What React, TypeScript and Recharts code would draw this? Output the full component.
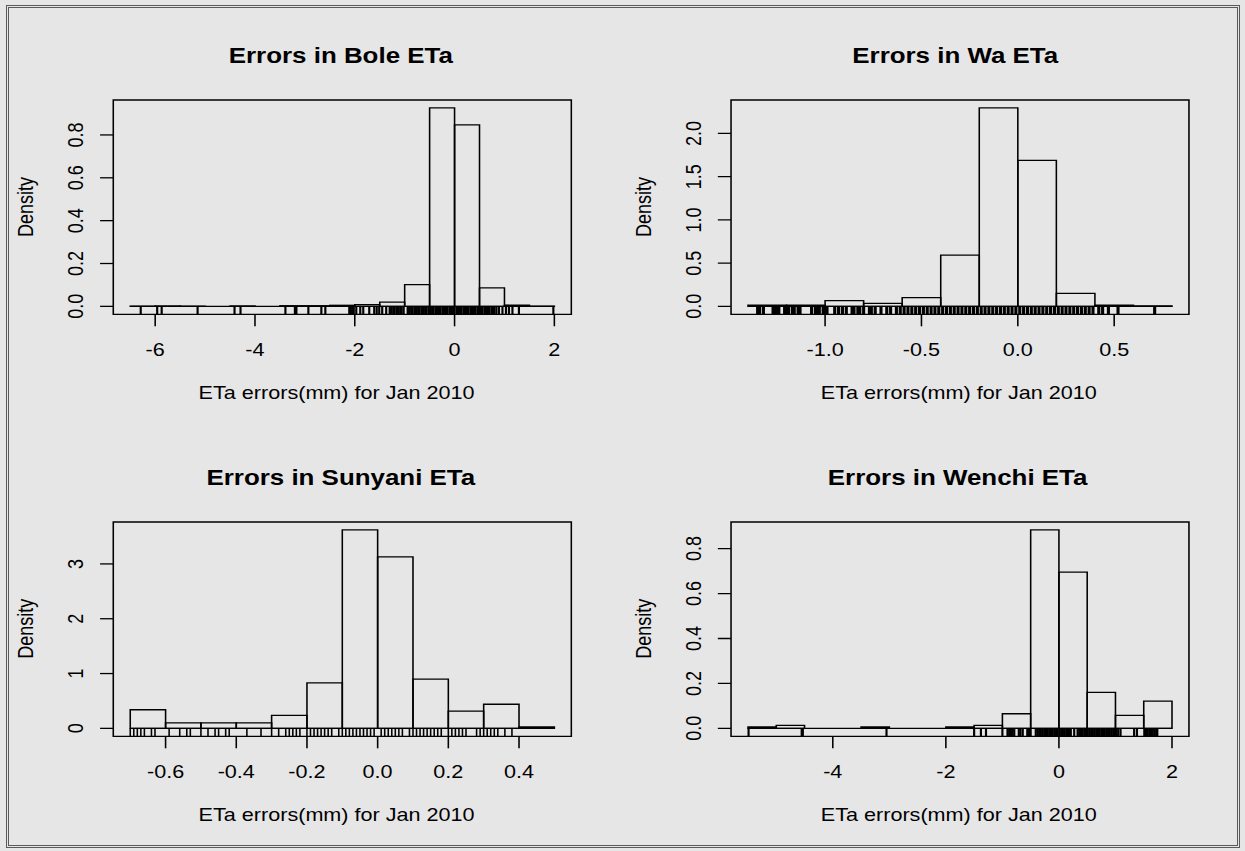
import React from "react";
import { ComposedChart, XAxis, YAxis, Scatter, ReferenceArea, ReferenceLine } from "recharts";

const FONT = '"Liberation Sans", Arial, Helvetica, sans-serif';

// Bole
const boleBreaks = [-6.5, -6, -5.5, -5, -4.5, -4, -3.5, -3, -2.5, -2, -1.5, -1, -0.5, 0, 0.5, 1, 1.5, 2];
const boleDensity = [0.001, 0.002, 0.001, 0, 0.002, 0, 0.003, 0.003, 0.005, 0.008, 0.02, 0.101, 0.926, 0.847, 0.086, 0.006, 0.001];
const boleRug = [-6.29, -5.96, -5.87, -5.15, -4.41, -4.29, -3.39, -3.2, -3.17, -2.93, -2.67, -2.59, -2.11, -2.08, -2.05, -2.02,
  -1.97, -1.89, -1.83, -1.71, -1.61, -1.56, -1.51, -1.45, -1.37, -1.3, -1.27, -1.23, -1.2, -1.16, -1.13, -1.09, -1.06, -1.02,
  -0.94, -0.91, -0.87, -0.84, -0.8, -0.77, -0.73, -0.7, -0.66, -0.63, -0.59, -0.56, -0.52, -0.49, -0.45, -0.42, -0.38, -0.35,
  -0.31, -0.28, -0.24, -0.21, -0.17, -0.14, -0.1, -0.07, -0.03, 0, 0.04, 0.07, 0.11, 0.14, 0.18, 0.21, 0.25, 0.28, 0.32, 0.35,
  0.39, 0.42, 0.46, 0.49, 0.53, 0.56, 0.6, 0.63, 0.67, 0.7, 0.74, 0.77, 0.8, 0.84, 0.89, 0.96, 1.03, 1.09, 1.16, 1.29, 1.98];
const boleXTicks = [-6, -4, -2, 0, 2];
const boleYTicks = [0, 0.2, 0.4, 0.6, 0.8];

// Wa
const waBreaks = [-1.4, -1.2, -1, -0.8, -0.6, -0.4, -0.2, 0, 0.2, 0.4, 0.6, 0.8];
const waDensity = [0.015, 0.015, 0.066, 0.035, 0.1, 0.593, 2.295, 1.688, 0.15, 0.015, 0.005];
const waRug = [-1.35, -1.34, -1.32, -1.27, -1.26, -1.25, -1.24, -1.21, -1.2, -1.19, -1.17, -1.16, -1.14, -1.13, -1.07, -1.05,
  -1.04, -1.03, -1.01, -1.0, -0.99, -0.95, -0.93, -0.91, -0.89, -0.86, -0.85, -0.83, -0.82, -0.8, -0.77, -0.76, -0.74, -0.71,
  -0.68, -0.66, -0.63, -0.61, -0.59, -0.57, -0.55, -0.53, -0.51, -0.49, -0.47, -0.45, -0.43, -0.41, -0.39, -0.37, -0.35, -0.33,
  -0.31, -0.29, -0.27, -0.25, -0.23, -0.21, -0.19, -0.17, -0.15, -0.13, -0.11, -0.09, -0.07, -0.05, -0.03, -0.01, 0.01, 0.03,
  0.05, 0.07, 0.09, 0.11, 0.13, 0.15, 0.17, 0.19, 0.21, 0.23, 0.25, 0.27, 0.29, 0.31, 0.33, 0.35, 0.37, 0.39, 0.42, 0.44, 0.47,
  0.52, 0.71];
const waXTicks = [-1, -0.5, 0, 0.5];
const waYTicks = [0, 0.5, 1, 1.5, 2];

// Sunyani
const sunyaniBreaks = [-0.7, -0.6, -0.5, -0.4, -0.3, -0.2, -0.1, 0, 0.1, 0.2, 0.3, 0.4, 0.5];
const sunyaniDensity = [0.34, 0.1, 0.1, 0.1, 0.236, 0.83, 3.62, 3.13, 0.9, 0.315, 0.44, 0.025];
const sunyaniRug = [-0.7, -0.69, -0.68, -0.67, -0.66, -0.64, -0.63, -0.59, -0.56, -0.54, -0.53, -0.5, -0.48, -0.46, -0.45,
  -0.43, -0.42, -0.37, -0.33, -0.3, -0.28, -0.26, -0.25, -0.24, -0.23, -0.22, -0.2, -0.19, -0.18, -0.17, -0.16, -0.15, -0.14,
  -0.13, -0.11, -0.1, -0.09, -0.08, -0.07, -0.06, -0.05, -0.04, -0.03, -0.02, -0.01, 0.01, 0.02, 0.03, 0.04, 0.05, 0.06, 0.07,
  0.09, 0.1, 0.11, 0.12, 0.13, 0.14, 0.15, 0.16, 0.17, 0.18, 0.2, 0.21, 0.22, 0.23, 0.24, 0.25, 0.28, 0.29, 0.3, 0.31, 0.32,
  0.33, 0.34, 0.36, 0.38];
const sunyaniXTicks = [-0.6, -0.4, -0.2, 0, 0.2, 0.4];
const sunyaniYTicks = [0, 1, 2, 3];

// Wenchi
const wenchiBreaks = [-5.5, -5, -4.5, -4, -3.5, -3, -2.5, -2, -1.5, -1, -0.5, 0, 0.5, 1, 1.5, 2];
const wenchiDensity = [0.006, 0.013, 0, 0, 0.006, 0, 0, 0.006, 0.013, 0.065, 0.883, 0.695, 0.16, 0.058, 0.121];
const wenchiRug = [-5.49, -4.55, -4.53, -3.05, -1.5, -1.38, -1.29, -1.0, -0.91, -0.88, -0.85, -0.82, -0.79, -0.71, -0.68,
  -0.64, -0.56, -0.53, -0.5, -0.41, -0.38, -0.35, -0.32, -0.29, -0.26, -0.23, -0.2, -0.17, -0.14, -0.11, -0.08, -0.05, -0.02,
  0.01, 0.04, 0.07, 0.1, 0.13, 0.16, 0.19, 0.21, 0.27, 0.33, 0.36, 0.39, 0.42, 0.45, 0.48, 0.51, 0.54, 0.57, 0.6, 0.63, 0.66,
  0.69, 0.72, 0.75, 0.78, 0.81, 0.84, 0.87, 0.9, 0.93, 0.96, 0.99, 1.02, 1.05, 1.09, 1.33, 1.38, 1.51, 1.54, 1.57, 1.6, 1.63,
  1.66, 1.69, 1.72, 1.74];
const wenchiXTicks = [-4, -2, 0, 2];
const wenchiYTicks = [0, 0.2, 0.4, 0.6, 0.8];

const XLABEL = "ETa errors(mm) for Jan 2010";

// the picture is stretched horizontally, so everything is drawn narrower and scaled
const STRETCH = 1.2;
const W = 518;
const H = 425;
const LW = 1.3;

const YTick = (props: any) => {
  const { x, y, payload, digits } = props;
  return (
    <text transform={`translate(${x - 14},${y}) rotate(-90)`} textAnchor="middle" fontSize={18} fontFamily={FONT} fill="#000">
      {Number(payload.value).toFixed(digits)}
    </text>
  );
};

type PanelProps = {
  breaks: number[];
  density: number[];
  rug: number[];
  xTicks: number[];
  yTicks: number[];
  xDigits: number;
  yDigits: number;
  left: number;
  top: number;
  mLeft: number;
  mRight: number;
  rugWidth: number;
};

function Panel(p: PanelProps) {
  const lo = p.breaks[0];
  const hi = p.breaks[p.breaks.length - 1];
  const pad = (hi - lo) * 0.04;
  const dmax = Math.max(...p.density);
  const xDomain = [lo - pad, hi + pad];
  const yDomain = [-dmax * 0.04, dmax * 1.04];
  const rugPts = p.rug.map((v) => ({ x: v, y: yDomain[0] }));

  return (
    <div style={{ position: "absolute", left: p.left, top: p.top }}>
      <ComposedChart width={W} height={H} margin={{ top: 100, right: p.mRight, bottom: 50.7, left: p.mLeft }}>
        <XAxis type="number" dataKey="x" domain={xDomain} allowDataOverflow ticks={p.xTicks} interval={0}
          tickFormatter={(v: number) => v.toFixed(p.xDigits)} tickSize={12} tickMargin={16.7} height={60}
          axisLine={false} tickLine={{ stroke: "#000", strokeWidth: LW }} tick={{ fill: "#000", fontSize: 18, fontFamily: FONT }} />
        <YAxis type="number" dataKey="y" domain={yDomain} allowDataOverflow ticks={p.yTicks} interval={0}
          tickSize={11} tickMargin={0} width={60} axisLine={false} tickLine={{ stroke: "#000", strokeWidth: LW }}
          tick={(t: any) => <YTick {...t} digits={p.yDigits} />} />
        <ReferenceArea x1={xDomain[0]} x2={xDomain[1]} y1={yDomain[0]} y2={yDomain[1]} fill="none" fillOpacity={0} stroke="#000" strokeWidth={LW} />
        <ReferenceLine segment={[{ x: lo, y: 0 }, { x: hi, y: 0 }]} stroke="#000" strokeWidth={LW} />
        {p.density.map((d, i) => (
          <ReferenceArea key={i} x1={p.breaks[i]} x2={p.breaks[i + 1]} y1={0} y2={d} fill="none" fillOpacity={0} stroke="#000" strokeWidth={LW} />
        ))}
        <Scatter data={rugPts} dataKey="y" isAnimationActive={false}
          shape={(s: any) => <line x1={s.cx} x2={s.cx} y1={s.cy} y2={s.cy - 8} stroke="#000" strokeWidth={p.rugWidth} />} />
      </ComposedChart>
    </div>
  );
}

const Labels = ({ cx, lx, dy, title, densX }: { cx: number; lx: number; dy: number; title: string; densX: number }) => (
  <g fontFamily={FONT} fill="#000">
    <text x={cx} y={63.3 + dy} textAnchor="middle" fontSize={21.6} fontWeight="bold">{title}</text>
    <text x={lx} y={399.5 + dy} textAnchor="middle" fontSize={18}>{XLABEL}</text>
    <text transform={`translate(${densX},${207 + dy}) rotate(-90)`} textAnchor="middle" fontSize={18}>Density</text>
  </g>
);

export default function App() {
  const row2 = 421.7;
  return (
    <div style={{ position: "absolute", left: 0, top: 0, width: 1245, height: 851, background: "#e6e6e6", overflow: "hidden" }}>
      <div style={{ position: "absolute", left: 0, top: 0, width: 1245 / STRETCH, height: 851, transform: `scaleX(${STRETCH})`, transformOrigin: "0 0" }}>
        <Panel breaks={boleBreaks} density={boleDensity} rug={boleRug} xTicks={boleXTicks} yTicks={boleYTicks}
          xDigits={0} yDigits={1} left={0} top={0} mLeft={34.4} mRight={41.9} rugWidth={1.8} />
        <Panel breaks={waBreaks} density={waDensity} rug={waRug} xTicks={waXTicks} yTicks={waYTicks}
          xDigits={1} yDigits={1} left={518} top={0} mLeft={31.2} mRight={45.2} rugWidth={2.6} />
        <Panel breaks={sunyaniBreaks} density={sunyaniDensity} rug={sunyaniRug} xTicks={sunyaniXTicks} yTicks={sunyaniYTicks}
          xDigits={1} yDigits={0} left={0} top={row2} mLeft={34.4} mRight={41.9} rugWidth={1.3} />
        <Panel breaks={wenchiBreaks} density={wenchiDensity} rug={wenchiRug} xTicks={wenchiXTicks} yTicks={wenchiYTicks}
          xDigits={0} yDigits={1} left={518} top={row2} mLeft={31.2} mRight={45.2} rugWidth={1.8} />
        <svg width={1245 / STRETCH} height={851} style={{ position: "absolute", left: 0, top: 0, pointerEvents: "none" }}>
          <Labels cx={284} lx={280.5} dy={0} title="Errors in Bole ETa" densX={27.5} />
          <Labels cx={796} lx={799} dy={0} title="Errors in Wa ETa" densX={542.3} />
          <Labels cx={284} lx={280.5} dy={row2} title="Errors in Sunyani ETa" densX={27.5} />
          <Labels cx={798} lx={799} dy={row2} title="Errors in Wenchi ETa" densX={542.3} />
        </svg>
      </div>
      <div style={{ position: "absolute", left: 6, top: 5, width: 1228, height: 837, border: "3px double #5a5a5a" }} />
    </div>
  );
}
